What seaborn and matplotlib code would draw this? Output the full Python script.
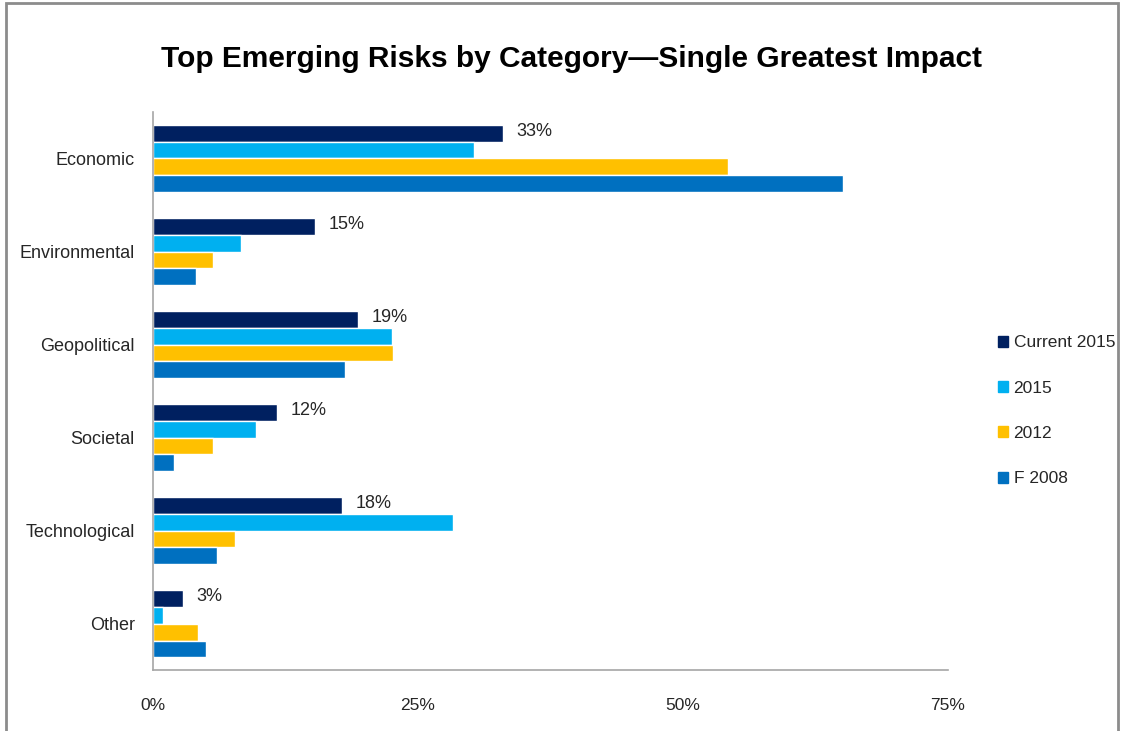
import pandas as pd
import matplotlib.pyplot as plt
import matplotlib.patches as mpatches
import seaborn as sns

# values (percent)
categories = ['Economic', 'Environmental', 'Geopolitical', 'Societal', 'Technological', 'Other']
series = ['Current 2015', '2015', '2012', 'F 2008']
current_2015 = [33.0, 15.3, 19.3, 11.7, 17.8, 2.8]
y2015 = [30.3, 8.3, 22.5, 9.7, 28.3, 0.9]
y2012 = [54.2, 5.7, 22.6, 5.7, 7.7, 4.2]
f2008 = [65.1, 4.1, 18.1, 2.0, 6.0, 5.0]
label_text = ['33%', '15%', '19%', '12%', '18%', '3%']
colors = ['#002060', '#00B0F0', '#FFC000', '#0070C0']

rows = []
for name, vals in zip(series, [current_2015, y2015, y2012, f2008]):
    for cat, v in zip(categories, vals):
        rows.append({'Category': cat, 'Series': name, 'Value': v})
df = pd.DataFrame(rows)

sns.set_style('white')
plt.rcParams['font.family'] = ['Liberation Sans', 'DejaVu Sans']

fig = plt.figure(figsize=(11.25, 7.31), dpi=100)
ax = fig.add_axes([0.136, 0.0834, 0.7067, 0.7634])

sns.barplot(data=df, y='Category', x='Value', hue='Series', order=categories,
            hue_order=series, palette=colors, width=0.73, saturation=1,
            orient='h', ax=ax, legend=False)

# data labels on the first series only
for bar, txt in zip(ax.containers[0], label_text):
    ax.annotate(txt, (bar.get_width(), bar.get_y() + bar.get_height() / 2),
                xytext=(10, 1), textcoords='offset points', va='center', ha='left',
                fontsize=13, color='#262626')

ax.set_xlim(0, 75)
ax.set_ylim(len(categories) - 0.5, -0.5)
ax.set_xticks([0, 25, 50, 75])
ax.set_xticklabels(['0%', '25%', '50%', '75%'], fontsize=12.5, color='#262626')
ax.set_yticks(range(len(categories)))
ax.set_yticklabels(categories, fontsize=13, color='#262626')
ax.tick_params(axis='y', length=0, pad=13)
ax.set_yticks([i - 0.5 for i in range(len(categories) + 1)], minor=True)
ax.tick_params(axis='y', which='minor', length=6, color='#A6A6A6', width=1)
ax.tick_params(axis='x', length=6, color='#A6A6A6', width=1, direction='out', pad=14)
ax.set_xlabel('')
ax.set_ylabel('')
for side in ['top', 'right']:
    ax.spines[side].set_visible(False)
for side in ['left', 'bottom']:
    ax.spines[side].set_color('#A6A6A6')
    ax.spines[side].set_linewidth(1.2)

handles = [mpatches.Patch(color=c, label=s) for c, s in zip(colors, series)]
fig.legend(handles=handles, loc='center left', bbox_to_anchor=(0.887, 0.438),
           frameon=False, fontsize=12.5, handlelength=0.6, handleheight=0.6,
           handletextpad=0.3, labelspacing=1.75, labelcolor='#262626',
           borderpad=0, borderaxespad=0)

fig.text(0.508, 0.919, 'Top Emerging Risks by Category\u2014Single Greatest Impact',
         ha='center', va='center', fontsize=21.5, fontweight='bold', color='black')

# outer frame seen in the reference
frame = mpatches.Rectangle((0.005, -0.05), 0.989, 1.046, transform=fig.transFigure,
                           fill=False, edgecolor='#8C8C8C', linewidth=2)
fig.patches.append(frame)

fig.savefig('out.png', dpi=100)
